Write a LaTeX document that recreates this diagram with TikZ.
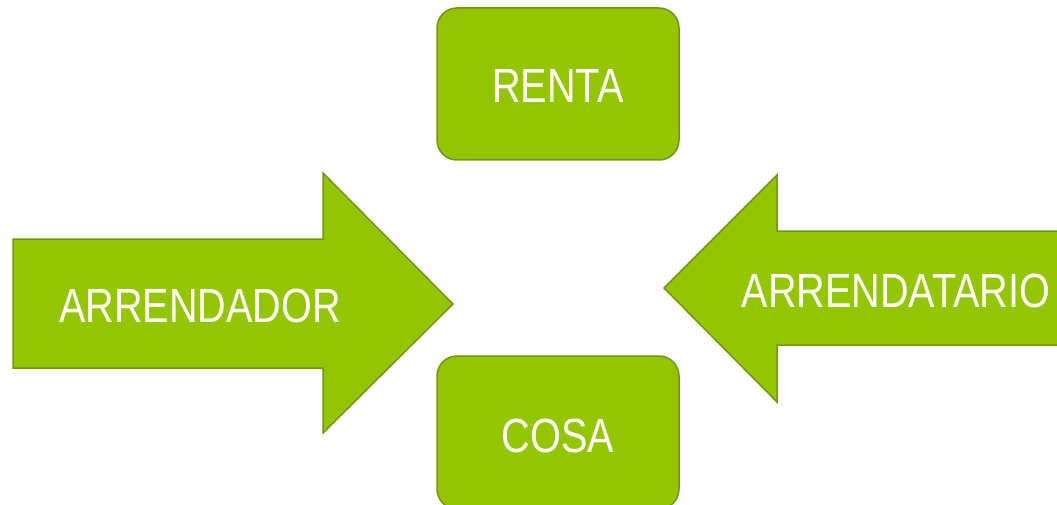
\documentclass[tikz,border=0pt]{standalone}
\usepackage{fontspec}
\setmainfont{Liberation Sans}[FakeStretch=0.825]
\definecolor{gfill}{RGB}{148,198,0}
\definecolor{gline}{RGB}{112,150,20}
\begin{document}
\begin{tikzpicture}[x=1pt,y=-1pt,
  shapestyle/.style={fill=gfill,draw=gline,line width=1.5pt,line join=miter},
  lbl/.style={text=white,font=\fontsize{48}{50}\selectfont,anchor=base,inner sep=0pt}]
\useasboundingbox (0,0) rectangle (1057,505);
\clip (0,0) rectangle (1057,505);
% boxes
\draw[shapestyle,rounded corners=20pt] (437,8) rectangle (679,160);
\draw[shapestyle,rounded corners=20pt] (437,356) rectangle (679,509);
% left arrow
\draw[shapestyle] (13,239) -- (323,239) -- (323,173) -- (453,304) -- (323,433) -- (323,368) -- (13,368) -- cycle;
% right arrow
\draw[shapestyle] (1065,231) -- (777,231) -- (777,175) -- (664,288) -- (777,402) -- (777,345) -- (1065,345) -- cycle;
\node[lbl] (renta) at (558,103) {RENTA};
\node[lbl] (cosa) at (558,452) {COSA};
\node[lbl] (arrendador) at (200,322) {ARRENDADOR};
\node[lbl] (arrendatario) at (896,307) {ARRENDATARIO};
\end{tikzpicture}
\end{document}
